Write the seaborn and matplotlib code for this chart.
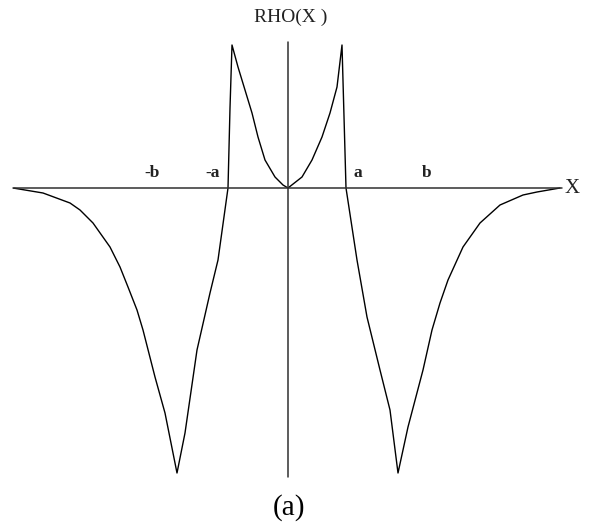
import matplotlib
matplotlib.use("Agg")
import matplotlib.pyplot as plt
import seaborn as sns
import pandas as pd

# Curve samples (x offset from origin, y value)
curve_x = [-275, -245, -218, -208, -195, -178, -168, -160, -151, -145,
           -133, -123, -111,
           -103, -91, -78, -70, -60, -58, -56,
           -50, -43, -36, -30, -23, -13, -5, 0, 14, 24, 34, 42, 49, 54,
           58, 69, 79, 92, 102, 110,
           120, 135, 144, 152, 160, 175, 192, 212, 235, 249, 272]
curve_y = [0, -5, -15, -22, -35, -59, -79, -99, -122, -142,
           -189, -225, -285,
           -245, -162, -105, -72, 0, 80, 143,
           121, 98, 75, 51, 28, 11, 3, 0, 11, 28, 51, 75, 101, 143,
           0, -72, -129, -182, -222, -285,
           -239, -182, -142, -115, -92, -59, -35, -17, -7, -4, 0]

# axis extents
x_axis = [-274, 274]
y_axis = [146, -289]

# marker labels on the x axis
tick_labels = ["-b", "-a", "a", "b"]
tick_pos = [-136, -75, 70, 139]

sns.set_theme(style="white")
plt.rcParams['font.family'] = ['Liberation Serif', 'DejaVu Serif']

fig = plt.figure(figsize=(5.95, 5.26), dpi=100)
ax = fig.add_axes([0, 0, 1, 1])
ax.set_xlim(-288, 307)
ax.set_ylim(-338, 188)
ax.axis('off')

df = pd.DataFrame({"x": curve_x, "y": curve_y})
sns.lineplot(data=df, x="x", y="y", sort=False, estimator=None,
             color="black", lw=1.0, ax=ax)

ax.plot(x_axis, [0, 0], color="#303030", lw=1.1)
ax.plot([0, 0], y_axis, color="#303030", lw=1.1)

for lab, p in zip(tick_labels, tick_pos):
    ax.text(p, 15, lab, ha="center", va="center", fontsize=12.5,
            fontweight="bold", color="#222222")

ax.text(284, 0, "X", ha="center", va="center", fontsize=15, color="#222222")
ax.text(3, 171, "RHO(X )", ha="center", va="center", fontsize=14, color="#222222")
ax.text(1, -320, "(a)", ha="center", va="center", fontsize=21, color="black")

fig.savefig("out.png", dpi=100)
